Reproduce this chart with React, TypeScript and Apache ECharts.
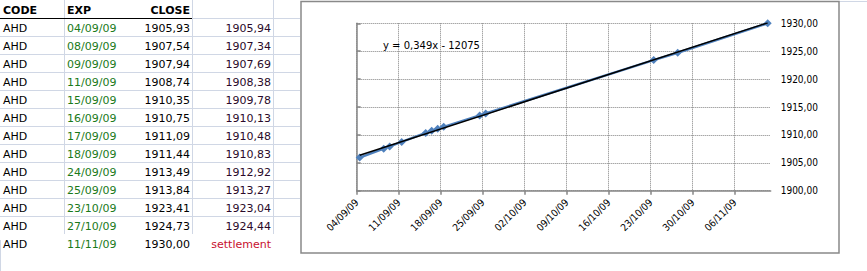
import React, { useEffect, useRef } from "react";
import * as echarts from "echarts";

// ---- data read from the sheet ----
const codes = ["AHD", "AHD", "AHD", "AHD", "AHD", "AHD", "AHD", "AHD", "AHD", "AHD", "AHD", "AHD", "AHD"];
const expDates = ["04/09/09", "08/09/09", "09/09/09", "11/09/09", "15/09/09", "16/09/09", "17/09/09", "18/09/09", "24/09/09", "25/09/09", "23/10/09", "27/10/09", "11/11/09"];
const closeValues = [1905.93, 1907.54, 1907.94, 1908.74, 1910.35, 1910.75, 1911.09, 1911.44, 1913.49, 1913.84, 1923.41, 1924.73, 1930.0];
const trendValues = [1905.94, 1907.34, 1907.69, 1908.38, 1909.78, 1910.13, 1910.48, 1910.83, 1912.92, 1913.27, 1923.04, 1924.44];
const lastLabel = "settlement";
const headers = ["CODE", "EXP", "CLOSE"];
const equationText = "y = 0,349x - 12075";
const yTicks = { min: 1900, max: 1930, step: 5 };
const xSpanDays = 69;
const xStepDays = 7;

const DAY = 86400000;
function parseDate(s: string): number {
  const [d, m, y] = s.split("/").map(Number);
  return Date.UTC(2000 + y, m - 1, d) / DAY;
}
const baseDay = parseDate(expDates[0]);
function fmtDay(offset: number): string {
  const dt = new Date((baseDay + offset) * DAY);
  const p = (n: number) => String(n).padStart(2, "0");
  return `${p(dt.getUTCDate())}/${p(dt.getUTCMonth() + 1)}/${p(dt.getUTCFullYear() % 100)}`;
}
const fmtNum = (v: number) => v.toFixed(2).replace(".", ",");

export default function App() {
  const ref = useRef<HTMLDivElement>(null);
  useEffect(() => {
    if (!ref.current) return;
    const chart = echarts.init(ref.current, null, { renderer: "svg" });

    // Excel date axis with "between tick marks": each point sits in the middle of its day
    const xs = expDates.map((d) => parseDate(d) - baseDay + 0.5);
    const closeData = xs.map((x, i) => [x, closeValues[i]]);

    // linear trendline (least squares fit of the plotted CLOSE series, as Excel draws it)
    const n = xs.length;
    const mx = xs.reduce((a, b) => a + b, 0) / n;
    const my = closeValues.reduce((a, b) => a + b, 0) / n;
    let sxy = 0, sxx = 0;
    for (let i = 0; i < n; i++) {
      sxy += (xs[i] - mx) * (closeValues[i] - my);
      sxx += (xs[i] - mx) * (xs[i] - mx);
    }
    const slope = sxy / sxx;
    const icpt = my - slope * mx;
    const trendData = [xs[0], xs[n - 1]].map((x) => [x, icpt + slope * x]);

    const gridColor = "#d0d7e5";
    const rowH = 18;
    const font = '11px "DejaVu Sans"';
    const boldFont = 'bold 11px "DejaVu Sans"';
    const g: any[] = [];
    // sheet gridlines
    const nRowsGrid = 13; // header + 12 rows have gridlines
    for (let k = 2; k < nRowsGrid; k++) {
      g.push({ type: "line", silent: true, shape: { x1: 0, y1: k * rowH + 0.5, x2: 300, y2: k * rowH + 0.5 }, style: { stroke: gridColor, lineWidth: 1 } });
    }
    g.push({ type: "line", silent: true, shape: { x1: 192, y1: rowH + 0.5, x2: 300, y2: rowH + 0.5 }, style: { stroke: gridColor, lineWidth: 1 } });
    [64, 192, 273].forEach((x) => {
      g.push({ type: "line", silent: true, shape: { x1: x + 0.5, y1: 0, x2: x + 0.5, y2: nRowsGrid * rowH }, style: { stroke: gridColor, lineWidth: 1 } });
    });
    g.push({ type: "line", silent: true, shape: { x1: 0.5, y1: 240, x2: 0.5, y2: 271 }, style: { stroke: gridColor, lineWidth: 1 } });
    g.push({ type: "line", silent: true, shape: { x1: 839, y1: 1.5, x2: 867, y2: 1.5 }, style: { stroke: gridColor, lineWidth: 1 } });
    // header underline
    g.push({ type: "line", silent: true, shape: { x1: 0, y1: rowH + 0.5, x2: 192, y2: rowH + 0.5 }, style: { stroke: "#000", lineWidth: 1 } });
    // headers
    g.push({ type: "text", x: 3, y: 10.5, style: { text: headers[0], font: boldFont, fill: "#000", align: "left", verticalAlign: "middle" } });
    g.push({ type: "text", x: 67, y: 10.5, style: { text: headers[1], font: boldFont, fill: "#000", align: "left", verticalAlign: "middle" } });
    g.push({ type: "text", x: 190, y: 10.5, style: { text: headers[2], font: boldFont, fill: "#000", align: "right", verticalAlign: "middle" } });
    // rows
    codes.forEach((c, i) => {
      const y = (i + 1) * rowH + 10.5;
      g.push({ type: "text", x: 3, y, style: { text: c, font, fill: "#000", align: "left", verticalAlign: "middle" } });
      g.push({ type: "text", x: 67, y, style: { text: expDates[i], font, fill: "#1a7a1a", align: "left", verticalAlign: "middle" } });
      g.push({ type: "text", x: 190, y, style: { text: fmtNum(closeValues[i]), font, fill: "#000", align: "right", verticalAlign: "middle" } });
      const t = i < trendValues.length ? fmtNum(trendValues[i]) : lastLabel;
      g.push({ type: "text", x: 271, y, style: { text: t, font, fill: i < trendValues.length ? "#2a0a2a" : "#c8102e", align: "right", verticalAlign: "middle" } });
    });
    // chart border
    g.push({ type: "rect", silent: true, shape: { x: 301, y: 1.5, width: 538, height: 251.5 }, style: { fill: "none", stroke: "#898989", lineWidth: 1.5 } });
    // equation label
    g.push({ type: "text", x: 383, y: 45, z: 10, style: { text: equationText, font: '10px "DejaVu Sans"', fill: "#000", align: "left", verticalAlign: "middle" } });

    const xTickVals: number[] = [];
    for (let v = 0; v < xSpanDays; v += xStepDays) xTickVals.push(v);

    chart.setOption({
      animation: false,
      backgroundColor: "#fff",
      graphic: g,
      grid: { left: 356.7, right: 96.3, top: 23.3, bottom: 80.3, containLabel: false },
      xAxis: {
        type: "value",
        min: 0,
        max: xSpanDays,
        interval: xStepDays,
        axisLine: { show: true, lineStyle: { color: "#868686", width: 1.5 } },
        axisTick: { show: true, length: 4, customValues: xTickVals, lineStyle: { color: "#868686", width: 1.5 } },
        axisLabel: {
          rotate: 45,
          margin: 10,
          customValues: xTickVals,
          fontSize: 10,
          fontFamily: '"DejaVu Sans Condensed", "Liberation Sans", sans-serif',
          color: "#000",
          formatter: (v: number) => (v % xStepDays === 0 && v < xSpanDays ? fmtDay(v) : ""),
        },
        splitLine: { show: true, lineStyle: { type: [1, 1], color: "#808080", width: 1 } },
      },
      yAxis: {
        type: "value",
        position: "right",
        min: yTicks.min,
        max: yTicks.max,
        interval: yTicks.step,
        axisLine: { show: true, lineStyle: { color: "#868686", width: 1.5 } },
        axisTick: { show: true, length: 4, lineStyle: { color: "#868686", width: 1.5 } },
        axisLabel: {
          margin: 10,
          fontSize: 10,
          fontFamily: '"DejaVu Sans Condensed", "Liberation Sans", sans-serif',
          color: "#000",
          formatter: (v: number) => fmtNum(v),
        },
        splitLine: { show: true, lineStyle: { type: [1, 1], color: "#808080", width: 1 } },
      },
      series: [
        {
          type: "line",
          name: "CLOSE",
          data: closeData,
          symbol: "diamond",
          symbolSize: 8,
          lineStyle: { color: "#4f81bd", width: 2.5 },
          itemStyle: { color: "#4f81bd" },
          z: 3,
        },
        {
          type: "line",
          name: "trend",
          data: trendData,
          symbol: "none",
          lineStyle: { color: "#000", width: 1.5 },
          z: 4,
        },
      ],
    });
    return () => chart.dispose();
  }, []);
  return <div ref={ref} style={{ position: "fixed", left: 0, top: 0, width: 867, height: 271 }} />;
}
